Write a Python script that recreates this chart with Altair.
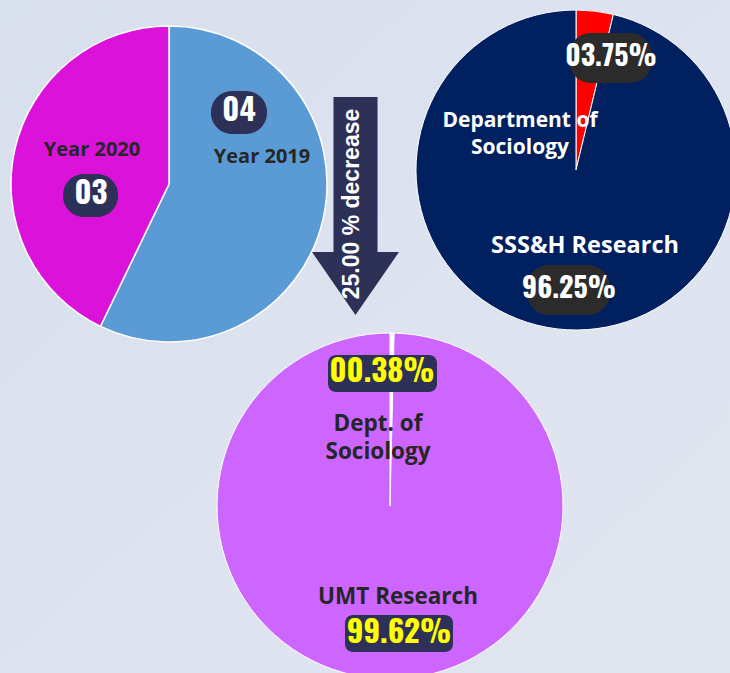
import altair as alt
import pandas as pd

# ---------------- data ----------------
pie1_labels = ["Year 2019", "Year 2020"]
pie1_values = [4, 3]
pie1_colors = ["#5b9bd5", "#da12da"]

pie2_labels = ["Department of Sociology", "SSS&H Research"]
pie2_values = [3.75, 96.25]
pie2_colors = ["#ff0000", "#002060"]

pie3_labels = ["Dept. of Sociology", "UMT Research"]
pie3_values = [0.38, 99.62]
pie3_colors = ["#ffffff", "#cc66ff"]

change_text = "25.00 % decrease"

# ---------------- layout ----------------
W, H = 730, 673
NUM_FONT = "Oswald, Roboto Condensed, sans-serif"
LBL_FONT = "Open Sans, Noto Sans, sans-serif"

base = pd.DataFrame({"k": [0]})


def pie(labels, values, colors, cx, cy, r, stroke, sw):
    df = pd.DataFrame({"cat": labels, "val": values, "idx": list(range(len(labels)))})
    return alt.Chart(df).mark_arc(radius=r, stroke=stroke, strokeWidth=sw).encode(
        theta=alt.Theta("val:Q", stack="normalize"),
        order=alt.Order("idx:Q"),
        color=alt.Color("cat:N", scale=alt.Scale(domain=labels, range=colors), legend=None),
        x=alt.value(cx),
        y=alt.value(cy),
    )


def badge(x0, x1, y0, y1, color, rad):
    return alt.Chart(base).mark_rect(color=color, cornerRadius=rad).encode(
        x=alt.value(x0), x2=alt.value(x1), y=alt.value(y0), y2=alt.value(y1)
    )


def label(text, x, y, size, color, font=LBL_FONT, weight="bold", angle=0, lh=None):
    kw = dict(text=text, font=font, fontSize=size, fontWeight=weight, color=color,
              align="center", baseline="middle")
    if angle:
        kw["angle"] = angle
    if lh:
        kw["lineHeight"] = lh
    return alt.Chart(base).mark_text(**kw).encode(x=alt.value(x), y=alt.value(y))


background = alt.Chart(base).mark_rect(
    color=alt.LinearGradient(
        gradient="linear",
        stops=[alt.GradientStop(color="#d8dfed", offset=0),
               alt.GradientStop(color="#e1e6f1", offset=1)],
        x1=0, y1=0, x2=1, y2=1,
    )
).encode(x=alt.value(0), x2=alt.value(W), y=alt.value(0), y2=alt.value(H))

# arrow as a single custom symbol
arrow_path = ("M-0.202,-1 L0.202,-1 L0.202,0.422 L0.399,0.422 L0,1 "
              "L-0.399,0.422 L-0.202,0.422 Z")
arrow = alt.Chart(base).mark_point(
    shape=arrow_path, filled=True, color="#2d3057", opacity=1, size=218 * 218, strokeWidth=0
).encode(x=alt.value(355.5), y=alt.value(206))

p1 = pie(pie1_labels, pie1_values, pie1_colors, 169, 184, 158, "white", 1.5)
p2 = pie(pie2_labels, pie2_values, pie2_colors, 576, 170, 160, "white", 1)
p3 = pie(pie3_labels, pie3_values, pie3_colors, 390, 506, 173, "white", 1)

layers = [background, p1, p2, p3, arrow]

DARK = "#262626"
# pie 1 annotations
layers += [
    badge(211, 267, 91, 134, "#2d3057", 21),
    label(f"{pie1_values[0]:02d}", 239, 112, 31, "white", NUM_FONT),
    label(pie1_labels[0], 262, 157, 20, DARK),
    label(pie1_labels[1], 92, 150, 20, DARK),
    badge(63, 118, 174, 217, "#2d3057", 21),
    label(f"{pie1_values[1]:02d}", 91, 195, 31, "white", NUM_FONT),
]
# pie 2 annotations
layers += [
    badge(569, 652, 33, 83, "#2b2b2b", 22),
    label(f"{pie2_values[0]:05.2f}%", 611, 58, 28, "white", NUM_FONT),
    label(["Department of", "Sociology"], 520, 121, 21, "white", lh=27),
    label(pie2_labels[1], 585, 246, 23.5, "white"),
    badge(527, 610, 265, 315, "#2b2b2b", 22),
    label(f"{pie2_values[1]:05.2f}%", 569, 290, 28, "white", NUM_FONT),
]
# pie 3 annotations
layers += [
    badge(328, 437, 355, 392, "#2d3057", 8),
    label(f"{pie3_values[0]:05.2f}%", 382, 373, 31, "#ffff00", NUM_FONT),
    label(["Dept. of", "Sociology"], 378, 424, 22.5, DARK, lh=28),
    label(pie3_labels[1], 398, 597, 22.5, DARK),
    badge(345, 453, 615, 652, "#2d3057", 8),
    label(f"{pie3_values[1]:05.2f}%", 399, 634, 31, "#ffff00", NUM_FONT),
]
# arrow text
layers.append(label(change_text, 352, 204, 23, "white", "Liberation Sans, Arial, sans-serif", angle=270))

chart = alt.layer(*layers).resolve_scale(
    color="independent", theta="independent"
).properties(
    width=W, height=H, padding=0, autosize="none"
).configure_view(stroke=None, strokeWidth=0)

chart.save("out.html", embed_options={"renderer": "svg", "actions": False})
